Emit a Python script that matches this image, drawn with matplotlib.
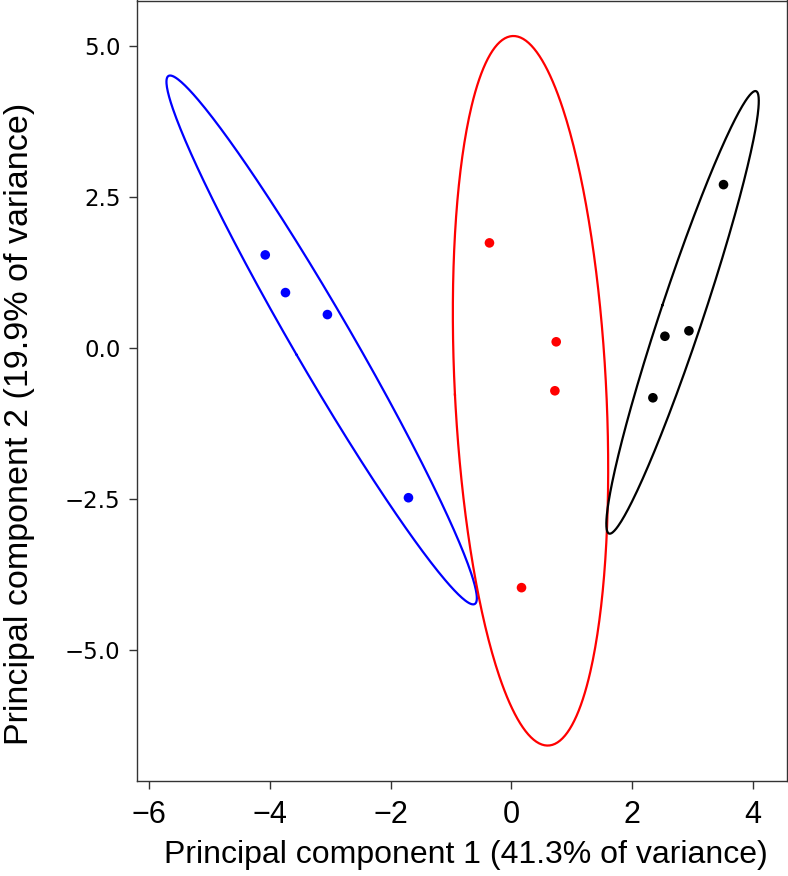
import numpy as np
import matplotlib
matplotlib.use("Agg")
import matplotlib.pyplot as plt

# ---- data ----
blue_x = [-4.08, -3.745, -3.05, -1.707]
blue_y = [1.537, 0.913, 0.549, -2.484]
red_x = [-0.365, 0.741, 0.719, 0.166]
red_y = [1.736, 0.098, -0.713, -3.973]
black_x = [3.513, 2.542, 2.940, 2.343]
black_y = [2.701, 0.190, 0.280, -0.829]

x_ticks = [-6, -4, -2, 0, 2, 4]
y_ticks = [5.0, 2.5, 0.0, -2.5, -5.0]
x_label = "Principal component 1 (41.3% of variance)"
y_label = "Principal component 2 (19.9% of variance)"
conf_level = 0.95

groups = [(blue_x, blue_y, "#0000ff"), (red_x, red_y, "#ff0000"), (black_x, black_y, "#000000")]


def conf_ellipse(xs, ys, level, n=361):
    pts = np.column_stack([xs, ys])
    mu = pts.mean(axis=0)
    cov = np.cov(pts, rowvar=False)
    r = np.sqrt(-2.0 * np.log(1.0 - level))  # chi-square (df=2) quantile
    vals, vecs = np.linalg.eigh(cov)
    t = np.linspace(0, 2 * np.pi, n)
    circ = np.vstack([np.cos(t), np.sin(t)])
    e = vecs @ (np.sqrt(vals)[:, None] * circ) * r
    return mu[0] + e[0], mu[1] + e[1]


fig = plt.figure(figsize=(7.88, 8.76), dpi=100)
ax = fig.add_axes([137.3 / 788, 1 - 780.7 / 876, (786.7 - 137.3) / 788, 780.2 / 876])

for xs, ys, c in groups:
    ex, ey = conf_ellipse(xs, ys, conf_level)
    ax.plot(ex, ey, color=c, lw=1.6, zorder=2)
    ax.scatter(xs, ys, s=48, color=c, edgecolors="none", zorder=3)

ax.set_xlim(-6.20, 4.56)
ax.set_ylim(-7.17, 5.75)
ax.set_xticks(x_ticks)
ax.set_xticklabels(["\u2212" + str(abs(v)) if v < 0 else str(v) for v in x_ticks],
                   fontfamily="Liberation Sans", fontsize=22)
ax.set_yticks(y_ticks)
ax.set_yticklabels([("\u2212" if v < 0 else "") + f"{abs(v):.1f}" for v in y_ticks],
                   fontfamily="DejaVu Sans", fontsize=16.5)
ax.tick_params(axis="both", direction="out", length=6, width=1, color="#333333")
ax.tick_params(axis="x", pad=8)
ax.tick_params(axis="y", pad=6)
for s in ax.spines.values():
    s.set_linewidth(1.0)
    s.set_color("#333333")

fig.text(466 / 788, 1 - 855 / 876, x_label, ha="center", va="center",
         fontfamily="Liberation Sans", fontsize=23)
fig.text(20 / 788, 1 - 424 / 876, y_label, ha="center", va="center", rotation=90,
         fontfamily="Liberation Sans", fontsize=24.5)

fig.savefig("out.png", dpi=100)
